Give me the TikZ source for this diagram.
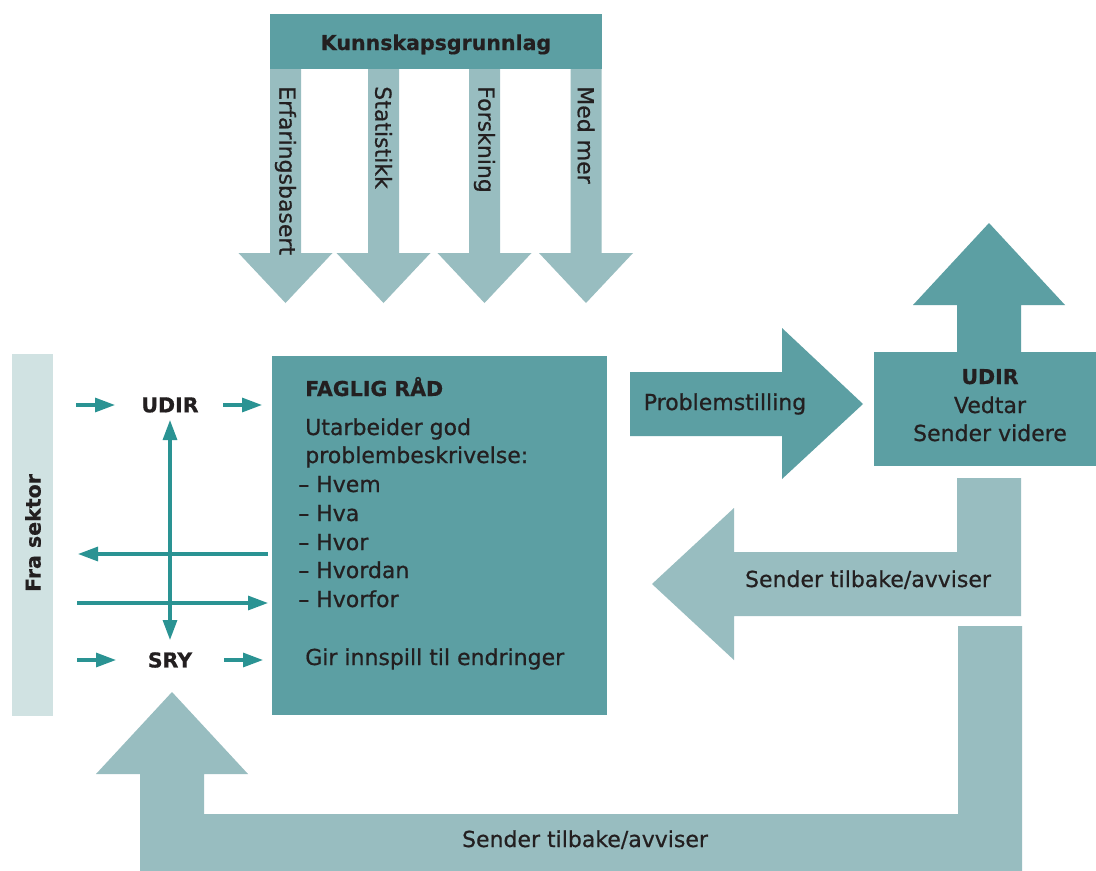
\documentclass[tikz,border=0pt]{standalone}
\usepackage{fontspec}
\setmainfont{DejaVu Sans}
\newfontfamily\medfont{DejaVu Sans}[FakeBold=0.7]
\newfontfamily\hvyfont{DejaVu Sans Bold}[FakeBold=0.5]
\usetikzlibrary{arrows.meta}
\definecolor{dteal}{HTML}{5C9FA3}
\definecolor{lteal}{HTML}{98BDC0}
\definecolor{vlteal}{HTML}{D0E2E2}
\definecolor{arrc}{HTML}{2A9393}
\definecolor{ink}{HTML}{231F20}
\tikzset{
  dkfill/.style={fill=dteal,draw=none},
  ltfill/.style={fill=lteal,draw=none},
  bodytxt/.style={text=ink,inner sep=0pt,font=\medfont\fontsize{16.5}{20}\selectfont},
  headtxt/.style={text=ink,inner sep=0pt,font=\hvyfont\fontsize{15.4}{19}\selectfont},
  thinarrow/.style={draw=arrc,line width=2.3pt,-{Triangle[length=15pt,width=10.5pt]}},
  thinarrowboth/.style={draw=arrc,line width=2.3pt,{Triangle[length=15pt,width=10.5pt]}-{Triangle[length=15pt,width=10.5pt]}}
}
\begin{document}
\begin{tikzpicture}[x=0.75pt,y=-0.75pt]
\useasboundingbox (0,0) rectangle (1096,871);
\fill[white] (0,0) rectangle (1096,871);

% Kunnskapsgrunnlag box and four down arrows
\fill[dkfill] (270,14) rectangle (602,69);
\node[headtxt,anchor=base] (kg) at (436,50) {Kunnskapsgrunnlag};
\foreach \cx/\lab/\nm in {285.5/Erfaringsbasert/da, 383.5/Statistikk/db, 484.5/Forskning/dc, 586/Med mer/dd}{
  \fill[ltfill] (\cx-15.5,69) -- (\cx-15.5,253) -- (\cx-47,253) -- (\cx,303) -- (\cx+47,253) -- (\cx+15.5,253) -- (\cx+15.5,69) -- cycle;
  \node[bodytxt,rotate=-90,anchor=west] (\nm) at (\cx,86) {\lab};
}

% Fra sektor bar
\fill[vlteal] (12,354) rectangle (53,716);
\node[headtxt,rotate=90] (fs) at (33,533) {Fra sektor};

% FAGLIG RAD box
\fill[dkfill] (272,356) rectangle (607,715);
\node[headtxt,anchor=base west] (fr) at (305,396) {FAGLIG RÅD};
\node[bodytxt,anchor=base west] (l1) at (305,435) {Utarbeider god};
\node[bodytxt,anchor=base west] (l2) at (305,463) {problembeskrivelse:};
\node[bodytxt,anchor=base west] (l3) at (298,492) {– Hvem};
\node[bodytxt,anchor=base west] (l4) at (298,521) {– Hva};
\node[bodytxt,anchor=base west] (l5) at (298,550) {– Hvor};
\node[bodytxt,anchor=base west] (l6) at (298,578) {– Hvordan};
\node[bodytxt,anchor=base west] (l7) at (298,607) {– Hvorfor};
\node[bodytxt,anchor=base west] (l8) at (305,665) {Gir innspill til endringer};

% Problemstilling arrow
\fill[dkfill] (630,372) -- (782,372) -- (782,328) -- (863,404) -- (782,479) -- (782,436) -- (630,436) -- cycle;
\node[bodytxt,anchor=base] (ps) at (725,410) {Problemstilling};

% UDIR box with up arrow
\fill[dkfill] (957,353) -- (957,305) -- (913,305) -- (989,223) -- (1065,305) -- (1021,305) -- (1021,353) -- cycle;
\fill[dkfill] (874,352) rectangle (1096,466);
\node[headtxt,anchor=base] (ud) at (990,384) {UDIR};
\node[bodytxt,anchor=base] (ve) at (990,413) {Vedtar};
\node[bodytxt,anchor=base] (sv) at (990,441) {Sender videre};

% middle return arrow
\fill[ltfill] (957,478) -- (1021,478) -- (1021,616) -- (734,616) -- (734,660) -- (652,584) -- (734,508) -- (734,552) -- (957,552) -- cycle;
\node[bodytxt,anchor=base] (st1) at (868,587) {Sender tilbake/avviser};

% bottom return arrow
\fill[ltfill] (958,626) -- (1022,626) -- (1022,871) -- (140,871) -- (140,774) -- (96,774) -- (172,692) -- (248,774) -- (204,774) -- (204,814) -- (958,814) -- cycle;
\node[bodytxt,anchor=base] (st2) at (585,847) {Sender tilbake/avviser};

% left labels
\node[headtxt] (udl) at (170,405) {UDIR};
\node[headtxt] (sry) at (170,660) {SRY};

% thin connectors
\coordinate (ua1) at (76,405);  \coordinate (ua2) at (115,405);
\coordinate (ub1) at (223,405); \coordinate (ub2) at (262,405);
\coordinate (sa1) at (77,660);  \coordinate (sa2) at (116,660);
\coordinate (sb1) at (224,660); \coordinate (sb2) at (263,660);
\coordinate (vt) at (170,420);  \coordinate (vb) at (170,640);
\coordinate (hl1) at (268,554); \coordinate (hl2) at (78,554);
\coordinate (hr1) at (77,603);  \coordinate (hr2) at (268,603);
\draw[thinarrow] (ua1) -- (ua2);
\draw[thinarrow] (ub1) -- (ub2);
\draw[thinarrow] (sa1) -- (sa2);
\draw[thinarrow] (sb1) -- (sb2);
\draw[thinarrowboth] (vt) -- (vb);
\draw[thinarrow] (hl1) -- (hl2);
\draw[thinarrow] (hr1) -- (hr2);
\end{tikzpicture}
\end{document}
